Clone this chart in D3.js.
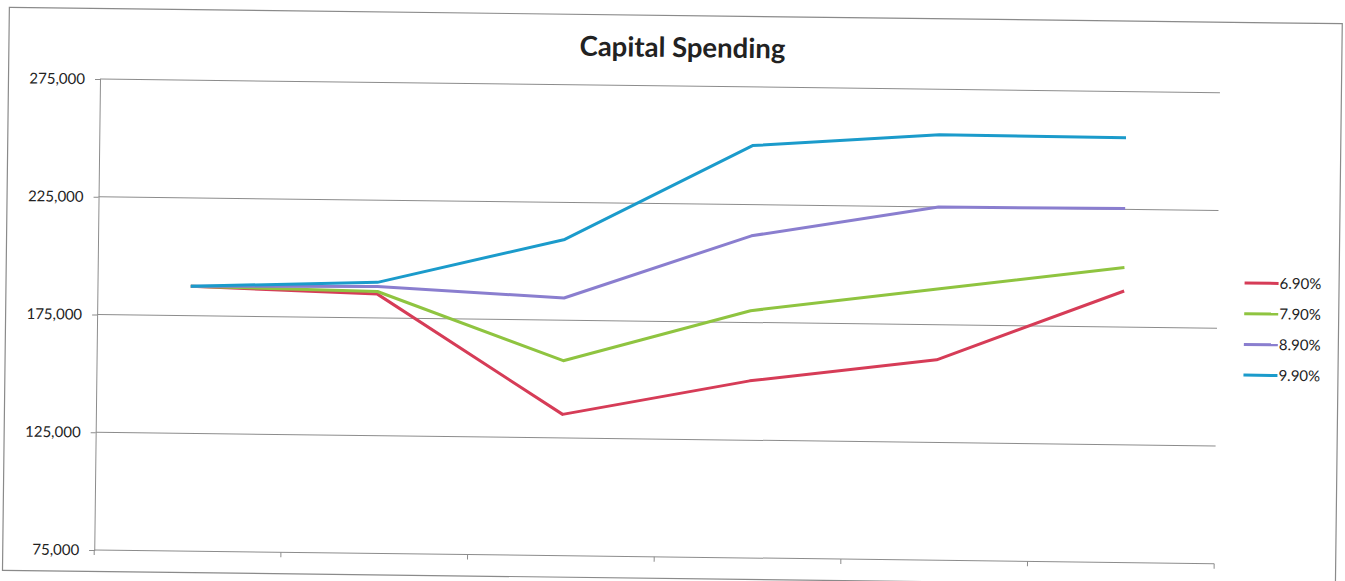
<!DOCTYPE html>
<html>
<head>
<meta charset="utf-8">
<script src="https://cdn.jsdelivr.net/npm/d3@7"></script>
<style>
  html, body { margin: 0; padding: 0; background: #fff; }
  svg { display: block; }
</style>
</head>
<body>
<svg id="chart" width="1345" height="581"></svg>
<script>
// ---- data ----
const categories = ["P1", "P2", "P3", "P4", "P5", "P6"];
const seriesNames = ["6.90%", "7.90%", "8.90%", "9.90%"];
const s690 = [187500, 185100, 135000, 150200, 160100, 190300];
const s790 = [187500, 186200, 157800, 180000, 190200, 200300];
const s890 = [187500, 188300, 184400, 211800, 225000, 225300];
const s990 = [187500, 190100, 209300, 250100, 255700, 255400];
const yTicks = [75000, 125000, 175000, 225000, 275000];
const title = "Capital Spending";

// ---- layout ----
const colors = ["#d63c57", "#8fc440", "#8a7ecf", "#1b9bcb"];
const plot = { x: 100, y: 79, w: 1120, h: 471 };
const tilt = 0.7; // scanned page is slightly rotated

const svg = d3.select("#chart");
const root = svg.append("g")
  .attr("transform", `rotate(${tilt},${plot.x},${plot.y})`);

// outer frame
root.append("rect")
  .attr("x", 8.5).attr("y", 8.5)
  .attr("width", 1333).attr("height", 563)
  .attr("fill", "none").attr("stroke", "#8a8a8a").attr("stroke-width", 1.2);

// title
root.append("text")
  .attr("x", 682).attr("y", 50)
  .attr("text-anchor", "middle")
  .attr("font-family", "Lato, 'Open Sans', sans-serif")
  .attr("font-weight", "bold")
  .attr("font-size", 27.5)
  .attr("fill", "#222")
  .text(title);

const g = root.append("g").attr("transform", `translate(${plot.x},${plot.y})`);

const x = d3.scalePoint().domain(categories).range([0, plot.w]).padding(0.5);
const xb = d3.scaleBand().domain(categories).range([0, plot.w]);
const y = d3.scaleLinear().domain([75000, 275000]).range([plot.h, 0]);

// gridlines
g.append("g").selectAll("line").data(yTicks.filter(d => d !== 75000)).join("line")
  .attr("x1", 0).attr("x2", plot.w)
  .attr("y1", d => y(d)).attr("y2", d => y(d))
  .attr("stroke", "#8c8c8c").attr("stroke-width", 1);

// y axis
const yAxis = g.append("g")
  .call(d3.axisLeft(y).tickValues(yTicks).tickSize(5).tickPadding(10).tickFormat(d3.format(",")));
yAxis.select(".domain").attr("stroke", "#8c8c8c");
yAxis.selectAll(".tick line").attr("stroke", "#8c8c8c");
yAxis.selectAll("text")
  .attr("font-family", "Lato, 'Open Sans', sans-serif")
  .attr("font-size", 15).attr("fill", "#222");

// x axis (ticks between categories, no labels)
const bounds = categories.map(c => xb(c)).concat([xb.range()[1]]);
const xg = g.append("g").attr("transform", `translate(0,${plot.h})`);
xg.append("line").attr("x1", 0).attr("x2", plot.w).attr("y1", 0).attr("y2", 0)
  .attr("stroke", "#8c8c8c");
xg.selectAll("line.tk").data(bounds).join("line").attr("class", "tk")
  .attr("x1", d => d).attr("x2", d => d).attr("y1", 0).attr("y2", 5)
  .attr("stroke", "#8c8c8c");

// lines
const allSeries = [s690, s790, s890, s990];
const line = d3.line().x((d, i) => x(categories[i])).y(d => y(d));
g.append("g").selectAll("path").data(allSeries).join("path")
  .attr("d", d => line(d))
  .attr("fill", "none")
  .attr("stroke", (d, i) => colors[i])
  .attr("stroke-width", 3)
  .attr("stroke-linejoin", "round");

// legend
const leg = root.append("g").attr("transform", "translate(1247,269)");
const items = leg.selectAll("g").data(seriesNames).join("g")
  .attr("transform", (d, i) => `translate(0,${i * 30.7})`);
items.append("line").attr("x1", 0).attr("x2", 34).attr("y1", 0).attr("y2", 0)
  .attr("stroke", (d, i) => colors[i]).attr("stroke-width", 3);
items.append("text").attr("x", 35).attr("y", 0).attr("dy", "0.35em")
  .attr("font-family", "Lato, 'Open Sans', sans-serif")
  .attr("font-size", 15).attr("fill", "#222")
  .text(d => d);
</script>
</body>
</html>
